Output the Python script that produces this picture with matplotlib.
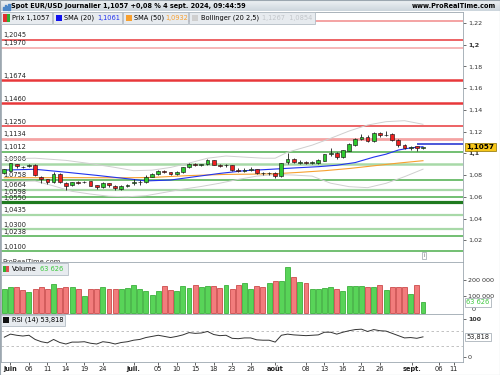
import numpy as np
import matplotlib.pyplot as plt
import matplotlib.transforms as mtrans
from matplotlib.patches import Rectangle
from matplotlib.colors import LinearSegmentedColormap

plt.rcParams['font.family'] = ['DejaVu Sans']

# bougies journalières EUR/USD, 31 mai -> 4 sept. 2024
opens = [1.0822, 1.0840, 1.0902, 1.0873, 1.0880, 1.0890, 1.0785, 1.0760, 1.0735, 1.0810,
         1.0730, 1.0705, 1.0734, 1.0732, 1.0742, 1.0705, 1.0687, 1.0724, 1.0699, 1.0676,
         1.0702, 1.0730, 1.0733, 1.0740, 1.0785, 1.0810, 1.0838, 1.0825, 1.0813, 1.0830,
         1.0870, 1.0903, 1.0893, 1.0902, 1.0935, 1.0897, 1.0890, 1.0890, 1.0848, 1.0840,
         1.0848, 1.0853, 1.0820, 1.0815, 1.0822, 1.0790, 1.0920, 1.0948, 1.0915, 1.0922,
         1.0912, 1.0912, 1.0932, 1.0990, 1.1006, 1.0963, 1.1024, 1.1076, 1.1128, 1.1153,
         1.1110, 1.1190, 1.1165, 1.1175, 1.1122, 1.1076, 1.1046, 1.1065, 1.1048]
highs = [1.0860, 1.0915, 1.0905, 1.0882, 1.0902, 1.0900, 1.0790, 1.0765, 1.0830, 1.0815,
         1.0735, 1.0740, 1.0745, 1.0745, 1.0745, 1.0710, 1.0735, 1.0730, 1.0705, 1.0710,
         1.0720, 1.0765, 1.0750, 1.0800, 1.0815, 1.0845, 1.0845, 1.0830, 1.0835, 1.0875,
         1.0910, 1.0910, 1.0905, 1.0945, 1.0940, 1.0900, 1.0900, 1.0893, 1.0867, 1.0868,
         1.0870, 1.0860, 1.0830, 1.0830, 1.0830, 1.0915, 1.1006, 1.0955, 1.0935, 1.0930,
         1.0925, 1.0945, 1.0995, 1.1045, 1.1010, 1.1035, 1.1095, 1.1140, 1.1175, 1.1165,
         1.1200, 1.1200, 1.1202, 1.1185, 1.1130, 1.1085, 1.1065, 1.1070, 1.1060]
lows = [1.0812, 1.0835, 1.0865, 1.0862, 1.0875, 1.0795, 1.0730, 1.0720, 1.0725, 1.0730,
        1.0662, 1.0695, 1.0720, 1.0725, 1.0695, 1.0672, 1.0680, 1.0690, 1.0666, 1.0665,
        1.0690, 1.0710, 1.0710, 1.0730, 1.0780, 1.0800, 1.0815, 1.0805, 1.0805, 1.0820,
        1.0865, 1.0880, 1.0880, 1.0895, 1.0890, 1.0870, 1.0875, 1.0840, 1.0830, 1.0825,
        1.0840, 1.0807, 1.0800, 1.0805, 1.0777, 1.0780, 1.0905, 1.0910, 1.0905, 1.0905,
        1.0905, 1.0905, 1.0925, 1.0975, 1.0950, 1.0960, 1.1020, 1.1070, 1.1118, 1.1100,
        1.1100, 1.1150, 1.1155, 1.1110, 1.1060, 1.1040, 1.1030, 1.1025, 1.1040]
closes = [1.0853, 1.0908, 1.0884, 1.0870, 1.0890, 1.0800, 1.0764, 1.0740, 1.0810, 1.0735,
          1.0699, 1.0735, 1.0731, 1.0736, 1.0699, 1.0690, 1.0727, 1.0710, 1.0678, 1.0702,
          1.0705, 1.0734, 1.0740, 1.0782, 1.0807, 1.0835, 1.0825, 1.0812, 1.0830, 1.0870,
          1.0903, 1.0890, 1.0900, 1.0935, 1.0897, 1.0880, 1.0893, 1.0847, 1.0840, 1.0845,
          1.0855, 1.0815, 1.0816, 1.0820, 1.0788, 1.0910, 1.0945, 1.0918, 1.0920, 1.0915,
          1.0918, 1.0938, 1.0990, 1.1002, 1.0966, 1.1028, 1.1088, 1.1135, 1.1150, 1.1110,
          1.1190, 1.1165, 1.1172, 1.1122, 1.1072, 1.1046, 1.1055, 1.1046, 1.1057]

volumes = [142000, 154000, 154000, 138000, 124000, 144000, 154000, 142000, 174000, 148000,
           154000, 154000, 144000, 104000, 144000, 144000, 156000, 142000, 144000, 144000,
           150000, 168000, 144000, 134000, 106000, 134000, 162000, 138000, 134000, 162000,
           148000, 168000, 154000, 162000, 162000, 152000, 166000, 144000, 166000, 178000,
           144000, 162000, 154000, 182000, 190000, 190000, 274000, 214000, 184000, 182000,
           144000, 144000, 148000, 154000, 144000, 130000, 162000, 162000, 162000, 154000,
           154000, 166000, 136000, 154000, 154000, 154000, 114000, 166000, 63626]

rsi = [53, 61, 58, 56, 58, 47, 41, 38, 47, 39,
       35, 40, 40, 41, 37, 35, 41, 39, 35, 39,
       41, 45, 47, 52, 55, 58, 55, 52, 55, 59,
       65, 63, 64, 68, 60, 57, 58, 50, 49, 51,
       51, 46, 45, 45, 40, 58, 61, 59, 58, 57,
       58, 59, 66, 66, 61, 66, 70, 73, 74, 68,
       73, 70, 69, 63, 57, 51, 52, 50, 53.818]

# moyennes mobiles et bandes de Bollinger, relevées point par point
sma20_idx = [0, 5, 10, 15, 20, 23, 27, 31, 35, 39, 43, 47, 51, 54, 57, 60, 62, 64, 66, 68]
sma20_val = [1.0846, 1.0853, 1.0826, 1.0797, 1.0766, 1.0746, 1.0754, 1.0785, 1.0815, 1.0840,
             1.0852, 1.0865, 1.0877, 1.0890, 1.0915, 1.0965, 1.0992, 1.1030, 1.1050, 1.1061]
sma20_proj = 1.1083
sma50_idx = [0, 10, 20, 24, 30, 36, 40, 44, 48, 52, 56, 60, 64, 68]
sma50_val = [1.0775, 1.0776, 1.0775, 1.0778, 1.0795, 1.0806, 1.0808, 1.0812, 1.0825, 1.0840,
             1.0860, 1.0885, 1.0910, 1.0932]
bb_up_idx = [0, 5, 10, 14, 18, 21, 24, 27, 30, 33, 36, 39, 42, 44, 46, 50, 53, 56, 59, 62, 65, 68]
bb_up_val = [1.0950, 1.0955, 1.0935, 1.0905, 1.0870, 1.0840, 1.0845, 1.0870, 1.0910, 1.0955,
             1.0975, 1.0965, 1.0955, 1.0955, 1.1010, 1.1075, 1.1138, 1.1205, 1.1260, 1.1291,
             1.1300, 1.1267]
bb_lo_idx = [0, 5, 8, 11, 14, 17, 20, 23, 26, 29, 32, 35, 38, 41, 44, 47, 50, 53, 56, 59, 62, 65, 68]
bb_lo_val = [1.0740, 1.0745, 1.0700, 1.0650, 1.0625, 1.0605, 1.0600, 1.0610, 1.0640, 1.0670,
             1.0695, 1.0725, 1.0760, 1.0790, 1.0805, 1.0800, 1.0790, 1.0725, 1.0693, 1.0684,
             1.0724, 1.0785, 1.0854]

# supports / résistances horizontaux
levels = [1.2214, 1.2045, 1.1970, 1.1674, 1.1460, 1.1250, 1.1134, 1.1012, 1.0906,
          1.0758, 1.0664, 1.0598, 1.0550, 1.0435, 1.0300, 1.0238, 1.0100]
level_labels = ['', '1,2045', '1,1970', '1,1674', '1,1460', '1,1250', '1,1134', '1,1012', '1,0906',
                '1,0758', '1,0664', '1,0598', '1,0550', '1,0435', '1,0300', '1,0238', '1,0100']

RED, LRED = '#e8383a', '#f4a3a3'
GRN, LGRN, DGRN = '#4cae4c', '#a8d9a8', '#1f7a1f'
level_colors = [LRED, RED, LRED, RED, RED, RED, LRED, GRN, LGRN,
                GRN, LGRN, GRN, DGRN, LGRN, LGRN, GRN, GRN]
level_widths = [1.4, 1.1, 1.1, 1.8, 1.8, 1.1, 2.0, 1.1, 1.8,
                1.1, 1.6, 1.1, 2.3, 1.6, 1.6, 1.1, 1.1]

# axe des dates
tick_pos = [1, 4, 7, 10, 13, 16, 21, 25, 28, 31, 34, 37, 40, 44, 49, 52, 55, 58, 61, 66.2, 70.6, 73.0]
tick_txt = ['juin', '06', '11', '14', '19', '24', 'juil.', '05', '10', '15', '18', '23', '26',
            'août', '08', '13', '16', '21', '26', 'sept.', '06', '11']
month_ticks = ['juin', 'juil.', 'août', 'sept.']

W, H = 500, 375
fig = plt.figure(figsize=(5, 3.75), dpi=100)


def box(x0, y0, x1, y1):
    return [x0 / W, 1 - y1 / H, (x1 - x0) / W, (y1 - y0) / H]


def frect(x0, y0, x1, y1, **kw):
    fig.patches.append(Rectangle((x0 / W, 1 - y1 / H), (x1 - x0) / W, (y1 - y0) / H,
                                 transform=fig.transFigure, **kw))


def ftext(x, y, s, **kw):
    kw.setdefault('fontsize', 4.8)
    kw.setdefault('va', 'center')
    kw.setdefault('zorder', 12)
    fig.text(x / W, 1 - y / H, s, **kw)


FRAME = '#9ca7b0'
xmin, xmax = -0.54, 74.5

ax_p = fig.add_axes(box(1, 12, 463, 262))
ax_v = fig.add_axes(box(1, 262, 463, 314), sharex=ax_p)
ax_r = fig.add_axes(box(1, 314, 463, 362), sharex=ax_p)

idx = np.arange(len(closes))
o, h, l, c = map(np.array, (opens, highs, lows, closes))
up = c >= o

# --- prix ---
for lev, col, lw, lab in zip(levels, level_colors, level_widths, level_labels):
    ax_p.axhline(lev, color=col, lw=lw, zorder=1)
    if lab:
        ax_p.text(0.004, lev + 0.0014, lab, transform=ax_p.get_yaxis_transform(),
                  fontsize=4.8, color='#222222', va='bottom', ha='left', zorder=2)

ax_p.plot(bb_up_idx, bb_up_val, color='#cfcfcf', lw=0.7, zorder=2)
ax_p.plot(bb_lo_idx, bb_lo_val, color='#cfcfcf', lw=0.7, zorder=2)
ax_p.plot(sma50_idx, sma50_val, color='#f7a030', lw=0.8, zorder=2)
ax_p.plot(sma20_idx, sma20_val, color='#2233ee', lw=0.8, zorder=2)
ax_p.hlines(sma20_proj, 67, xmax, color='#1a2ad0', lw=1.1, zorder=2)

ax_p.vlines(idx, l, h, color='#1a1a1a', lw=0.6, zorder=3)
body_lo = np.minimum(o, c)
body_h = np.maximum(np.abs(c - o), 0.0002)
ax_p.bar(idx, body_h, bottom=body_lo, width=0.62,
         color=np.where(up, '#2ec82e', '#ee2020'), edgecolor='#1a1a1a', lw=0.45, zorder=4)

ax_p.set_ylim(1.0, 1.23)
ax_p.yaxis.tick_right()
yt = [1.02, 1.04, 1.06, 1.08, 1.10, 1.12, 1.14, 1.16, 1.18, 1.20, 1.22]
ax_p.set_yticks(yt)
ax_p.set_yticklabels([('%.2f' % v).rstrip('0').replace('.', ',') for v in yt])
for t in ax_p.get_yticklabels():
    if t.get_text() in ('1,1', '1,2'):
        t.set_fontweight('bold')

trans_p = mtrans.blended_transform_factory(ax_p.transAxes, ax_p.transData)
ax_p.text(1.0075, c[-1], '1,1057', transform=trans_p, fontsize=5.2, fontweight='bold',
          va='center', ha='left', zorder=20,
          bbox=dict(boxstyle='square,pad=0.18', fc='#f6c619', ec='#8a7000', lw=0.5))
ax_p.text(0.004, 1.0, 'ProRealTime.com', transform=trans_p, fontsize=4.9,
          color='#333333', va='center', ha='left')
ax_p.text(idx[-1] + 0.2, 1.0057, 'i', fontsize=4, color='#666666', ha='center', va='center',
          bbox=dict(boxstyle='square,pad=0.2', fc='white', ec='#9aa4ad', lw=0.5))

# --- volume ---
ax_v.bar(idx, volumes, width=0.8, color=np.where(up, '#58d458', '#f27c7c'),
         edgecolor=np.where(up, '#26a526', '#c43434'), lw=0.5)
ax_v.set_ylim(-6000, 305000)
ax_v.yaxis.tick_right()
ax_v.set_yticks([100000, 200000])
ax_v.set_yticklabels(['100 000', '200 000'])
ax_v.text(1.018, 22000, '0', transform=mtrans.blended_transform_factory(ax_v.transAxes, ax_v.transData),
          fontsize=4.6, color='#333333', va='center', ha='left')
ax_v.text(1.0075, volumes[-1], '63 626',
          transform=mtrans.blended_transform_factory(ax_v.transAxes, ax_v.transData),
          fontsize=4.8, color='#3cc83c', va='center', ha='left', zorder=20,
          bbox=dict(boxstyle='square,pad=0.2', fc='white', ec='#9aa4ad', lw=0.5))

# --- RSI ---
ax_r.axhline(70, color='#b8b8b8', lw=0.6, ls=(0, (3, 3)))
ax_r.axhline(30, color='#b8b8b8', lw=0.6, ls=(0, (3, 3)))
ax_r.plot(idx, rsi, color='#333333', lw=0.7)
ax_r.set_ylim(-12.4, 114)
ax_r.yaxis.tick_right()
ax_r.set_yticks([0, 100])
ax_r.set_yticklabels(['0', '100'])
ax_r.get_yticklabels()[1].set_fontweight('bold')
ax_r.text(1.0075, rsi[-1], '53,818',
          transform=mtrans.blended_transform_factory(ax_r.transAxes, ax_r.transData),
          fontsize=4.8, color='#222222', va='center', ha='left', zorder=20,
          bbox=dict(boxstyle='square,pad=0.2', fc='white', ec='#9aa4ad', lw=0.5))

ax_r.set_xlim(xmin, xmax)
ax_r.set_xticks(tick_pos)
ax_r.set_xticklabels(tick_txt)
for t in ax_r.get_xticklabels():
    if t.get_text() in month_ticks:
        t.set_fontweight('bold')
ax_r.tick_params(axis='x', length=2, width=0.5, pad=1.2, labelsize=4.8, colors='#222222')

for ax in (ax_p, ax_v, ax_r):
    ax.set_facecolor('white')
    ax.tick_params(axis='y', length=2, width=0.5, pad=1.5, labelsize=4.6, colors='#333333')
    for s in ax.spines.values():
        s.set_color(FRAME)
        s.set_linewidth(0.6)
for ax in (ax_p, ax_v):
    ax.tick_params(axis='x', length=0, labelbottom=False)

# --- bandeau titre ---
ax_t = fig.add_axes(box(0, 0, 500, 11.5))
grad = LinearSegmentedColormap.from_list('bar', ['#f2f5f7', '#cdd6dd'])
ax_t.imshow(np.linspace(0, 1, 30).reshape(-1, 1), aspect='auto', cmap=grad, extent=(0, 1, 0, 1))
ax_t.set_axis_off()
ax_t.text(0.022, 0.5, 'Spot EUR/USD Journalier 1,1057 +0,08 % 4 sept. 2024, 09:44:59',
          transform=ax_t.transAxes, fontsize=4.7, fontweight='bold', va='center', ha='left')
ax_t.text(0.992, 0.5, 'www.ProRealTime.com', transform=ax_t.transAxes, fontsize=4.7,
          fontweight='bold', va='center', ha='right')
for k, hh in enumerate([3, 5, 4, 6]):
    ax_t.add_patch(Rectangle((0.006 + k * 0.0035, 0.15), 0.0025, hh / 11.5,
                             transform=ax_t.transAxes, color='#4a86c8'))

# --- légendes ---
LEG_FC, LEG_EC = '#e7ebef', '#b3bcc4'
frect(1, 12, 52, 24, fc=LEG_FC, ec=LEG_EC, lw=0.6, zorder=10)
frect(3, 14.5, 6.5, 21.5, fc='#e03030', ec='none', zorder=11)
frect(6.5, 14.5, 10, 21.5, fc='#30b030', ec='none', zorder=11)
ftext(12, 18, 'Prix 1,1057')

frect(53, 12, 122, 24, fc=LEG_FC, ec=LEG_EC, lw=0.6, zorder=10)
frect(56, 15, 62, 21, fc='#1010ee', ec='none', zorder=11)
ftext(64, 18, 'SMA (20)')
ftext(97, 18, '1,1061', color='#2233ee')

frect(123, 12, 188, 24, fc=LEG_FC, ec=LEG_EC, lw=0.6, zorder=10)
frect(126, 15, 132, 21, fc='#f7a030', ec='none', zorder=11)
ftext(134, 18, 'SMA (50)')
ftext(165, 18, '1,0932', color='#f7a030')

frect(189, 12, 315, 24, fc=LEG_FC, ec=LEG_EC, lw=0.6, zorder=10)
frect(192, 15, 198, 21, fc='#cfcfcf', ec='none', zorder=11)
ftext(201, 18, 'Bollinger (20 2,5)')
ftext(262, 18, '1,1267  1,0854', color='#c2c6ca')

frect(1, 263, 68, 275, fc=LEG_FC, ec=LEG_EC, lw=0.6, zorder=10)
frect(3, 266, 6, 272, fc='#30b030', ec='none', zorder=11)
frect(6, 266, 9, 272, fc='#e05050', ec='none', zorder=11)
ftext(12, 269, 'Volume')
ftext(40, 269, '63 626', color='#3cc83c')

frect(1, 314.5, 65, 326, fc=LEG_FC, ec=LEG_EC, lw=0.6, zorder=10)
frect(3, 317, 9, 323, fc='#111111', ec='none', zorder=11)
ftext(12, 320, 'RSI (14) 53,818')

frect(0.3, 0.3, 499.7, 374.7, fc='none', ec=FRAME, lw=0.8, zorder=30)

fig.savefig('out.png', dpi=100)
